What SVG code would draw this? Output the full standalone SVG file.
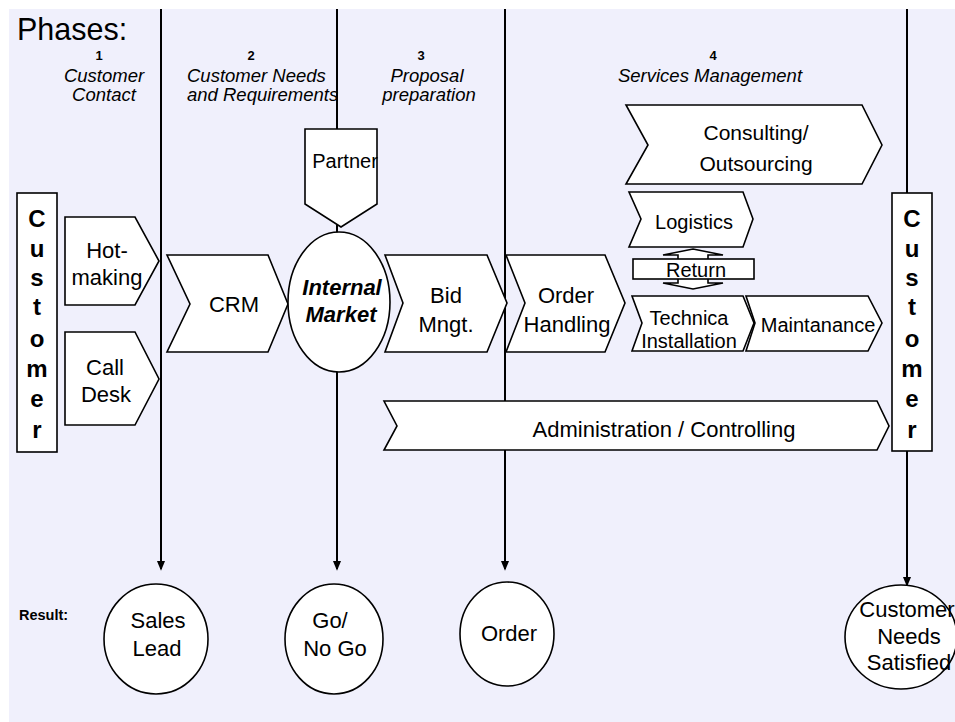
<svg xmlns="http://www.w3.org/2000/svg" width="955" height="722" viewBox="0 0 955 722">
<defs>
<style>
text{font-family:"Liberation Sans",Arial,sans-serif;fill:#000}
.shape{fill:#fff;stroke:#000;stroke-width:1.6}
.line{stroke:#000;stroke-width:2;fill:none}
.lbl{font-size:22px;text-anchor:middle}
.sm{font-size:20px;text-anchor:middle}
.ph{font-size:18.5px;font-style:italic;text-anchor:middle}
.num{font-size:13px;font-weight:bold;text-anchor:middle}
.cust{font-size:24px;font-weight:bold;text-anchor:middle}
</style>
<marker id="ah" markerWidth="10" markerHeight="12" refX="10" refY="5" orient="auto" markerUnits="userSpaceOnUse" viewBox="0 0 12 10">
<path d="M0,0 L12,5 L0,10 Z" fill="#000"/>
</marker>
</defs>
<rect x="9" y="9" width="946" height="713" fill="#f0f0fc"/>

<g id="header">
<text x="17" y="40" style="font-size:30.5px">Phases:</text>
<text class="num" x="99" y="59.5">1</text>
<text class="num" x="251" y="59.5">2</text>
<text class="num" x="421" y="59.5">3</text>
<text class="num" x="713" y="59.5">4</text>
<text class="ph" x="104" y="82">Customer</text>
<text class="ph" x="104" y="101">Contact</text>
<text class="ph" x="187" y="82" style="text-anchor:start">Customer Needs</text>
<text class="ph" x="187" y="101" style="text-anchor:start">and Requirements</text>
<text class="ph" x="427" y="82">Proposal</text>
<text class="ph" x="429" y="101">preparation</text>
<text class="ph" x="710" y="82">Services Management</text>
</g>

<g id="connectors">
<line class="line" x1="161" y1="9" x2="161" y2="569" marker-end="url(#ah)"/>
<line class="line" x1="337" y1="9" x2="337" y2="569" marker-end="url(#ah)"/>
<line class="line" x1="505" y1="9" x2="505" y2="569" marker-end="url(#ah)"/>
<line class="line" x1="907" y1="9" x2="907" y2="585" marker-end="url(#ah)"/>
</g>

<g id="customer-left">
<rect class="shape" x="17" y="193" width="40" height="259"/>
<text class="cust" x="37" y="227">C</text>
<text class="cust" x="37" y="257">u</text>
<text class="cust" x="37" y="286">s</text>
<text class="cust" x="37" y="315">t</text>
<text class="cust" x="37" y="347">o</text>
<text class="cust" x="37" y="377">m</text>
<text class="cust" x="37" y="407">e</text>
<text class="cust" x="37" y="438">r</text>
</g>

<g id="hotmaking">
<polygon class="shape" points="65,217 135,217 159,261 135,305 65,305"/>
<text class="lbl" x="107" y="258">Hot-</text>
<text class="lbl" x="107" y="285">making</text>
</g>

<g id="calldesk">
<polygon class="shape" points="65,332 135,332 159,379 135,425 65,425"/>
<text class="lbl" x="105" y="375">Call</text>
<text class="lbl" x="106" y="402">Desk</text>
</g>

<g id="crm">
<polygon class="shape" points="167,255 268,255 288,304 268,352 167,352 190,304"/>
<text class="lbl" x="234" y="312">CRM</text>
</g>

<g id="partner">
<polygon class="shape" points="305,129 377,129 377,204 341,227 305,204"/>
<text class="sm" x="345" y="168">Partner</text>
</g>

<g id="internal-market">
<ellipse class="shape" cx="339" cy="302" rx="51" ry="70"/>
<text class="lbl" x="342" y="295" style="font-weight:bold;font-style:italic">Internal</text>
<text class="lbl" x="341" y="322" style="font-weight:bold;font-style:italic">Market</text>
</g>

<g id="bid">
<polygon class="shape" points="385,255 487,255 507,303 487,352 385,352 403,303"/>
<text class="lbl" x="446" y="303">Bid</text>
<text class="lbl" x="446" y="332">Mngt.</text>
</g>

<g id="order-handling">
<polygon class="shape" points="506,255 605,255 625,303 605,352 506,352 525,303"/>
<text class="lbl" x="566" y="303">Order</text>
<text class="lbl" x="567" y="332">Handling</text>
</g>

<g id="consulting">
<polygon class="shape" points="626,105 862,105 882,145 862,184 626,184 648,145"/>
<text class="sm" x="756" y="140" style="font-size:21px">Consulting/</text>
<text class="sm" x="756" y="171" style="font-size:21px">Outsourcing</text>
</g>

<g id="logistics">
<polygon class="shape" points="629,192 743,192 753,219 743,247 629,247 641,219"/>
<text class="sm" x="694" y="229">Logistics</text>
</g>

<g id="return">
<path class="shape" d="M693,249 L723,255 L708,255 L708,283 L723,283 L693,289 L663,283 L678,283 L678,255 L663,255 Z"/>
<rect class="shape" x="633" y="259" width="121" height="20"/>
<text class="sm" x="696" y="277">Return</text>
</g>

<g id="technical">
<polygon class="shape" points="632,296 743,296 754,323 743,351 632,351 642,323"/>
<text class="sm" x="689" y="325">Technica</text>
<text class="sm" x="689" y="348">Installation</text>
</g>

<g id="maintanance">
<polygon class="shape" points="746,296 868,296 882,323 868,351 746,351 755,323"/>
<text class="sm" x="818" y="332">Maintanance</text>
</g>

<g id="admin">
<polygon class="shape" points="384,401 877,401 889,426 877,450 384,450 397,426"/>
<text class="lbl" x="664" y="437">Administration / Controlling</text>
</g>

<g id="customer-right">
<rect class="shape" x="892" y="193" width="40" height="258"/>
<text class="cust" x="912" y="227">C</text>
<text class="cust" x="912" y="257">u</text>
<text class="cust" x="912" y="286">s</text>
<text class="cust" x="912" y="315">t</text>
<text class="cust" x="912" y="347">o</text>
<text class="cust" x="912" y="377">m</text>
<text class="cust" x="912" y="407">e</text>
<text class="cust" x="912" y="438">r</text>
</g>

<g id="result-label">
<text x="19" y="620" style="font-size:14.5px;font-weight:bold">Result:</text>
</g>

<g id="sales-lead">
<ellipse class="shape" cx="156" cy="639" rx="52" ry="55"/>
<text class="lbl" x="158" y="628">Sales</text>
<text class="lbl" x="157" y="656">Lead</text>
</g>

<g id="gonogo">
<ellipse class="shape" cx="334" cy="639" rx="49" ry="55"/>
<text class="lbl" x="330" y="628">Go/</text>
<text class="lbl" x="335" y="656">No Go</text>
</g>

<g id="order">
<ellipse class="shape" cx="507" cy="634" rx="47" ry="52"/>
<text class="lbl" x="509" y="641">Order</text>
</g>

<g id="satisfied">
<ellipse class="shape" cx="901" cy="637" rx="56" ry="52"/>
<text class="lbl" x="907" y="617">Customer</text>
<text class="lbl" x="909" y="644">Needs</text>
<text class="lbl" x="909" y="670">Satisfied</text>
</g>
</svg>
